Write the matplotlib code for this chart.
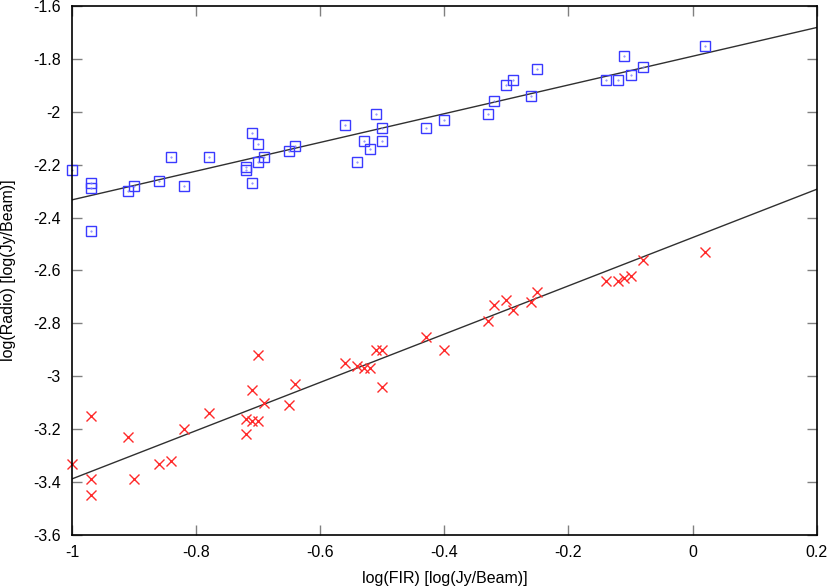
import matplotlib
matplotlib.use("Agg")
import matplotlib.pyplot as plt
import numpy as np

plt.rcParams['font.family'] = ['Liberation Sans', 'DejaVu Sans']

# log(FIR), same x for both bands
log_fir = [-1.00, -0.97, -0.97, -0.97, -0.91, -0.90, -0.86, -0.84, -0.82, -0.78,
           -0.71, -0.70, -0.72, -0.72, -0.71, -0.70, -0.69, -0.65, -0.64, -0.56,
           -0.51, -0.50, -0.53, -0.50, -0.52, -0.54, -0.43, -0.40, -0.33, -0.32,
           -0.30, -0.29, -0.26, -0.25, -0.14, -0.12, -0.11, -0.10, -0.08, 0.02]

# upper set (squares)
log_radio_a = [-2.22, -2.27, -2.29, -2.45, -2.30, -2.28, -2.26, -2.17, -2.28, -2.17,
               -2.08, -2.12, -2.21, -2.22, -2.27, -2.19, -2.17, -2.15, -2.13, -2.05,
               -2.01, -2.06, -2.11, -2.11, -2.14, -2.19, -2.06, -2.03, -2.01, -1.96,
               -1.90, -1.88, -1.94, -1.84, -1.88, -1.88, -1.79, -1.86, -1.83, -1.75]

# lower set (crosses)
log_radio_b = [-3.33, -3.15, -3.39, -3.45, -3.23, -3.39, -3.33, -3.32, -3.20, -3.14,
               -3.05, -2.92, -3.16, -3.22, -3.17, -3.17, -3.10, -3.11, -3.03, -2.95,
               -2.90, -2.90, -2.97, -3.04, -2.97, -2.96, -2.85, -2.90, -2.79, -2.73,
               -2.71, -2.75, -2.72, -2.68, -2.64, -2.64, -2.63, -2.62, -2.56, -2.53]

# fitted lines (slope, intercept)
fit_a = (0.543, -1.790)
fit_b = (0.9125, -2.4755)

fig = plt.figure(figsize=(8.3, 5.87), dpi=100)
ax = fig.add_axes([0.0867, 0.0886, 0.8973, 0.9012])

xx = np.linspace(-1, 0.2, 50)
ax.plot(xx, fit_a[0] * xx + fit_a[1], color='#303030', lw=1.0)
ax.plot(xx, fit_b[0] * xx + fit_b[1], color='#303030', lw=1.0)

ax.plot(log_fir, log_radio_a, 's', ms=7.5, mfc='none', mec='#3a3aff', mew=1.0, clip_on=False)
ax.plot(log_fir, log_radio_a, '.', ms=1, color='#8080ff', clip_on=False)
ax.plot(log_fir, log_radio_b, 'x', ms=7.5, color='#ff2a2a', mew=1.0, clip_on=False)

ax.set_xlim(-1, 0.2)
ax.set_ylim(-3.6, -1.6)
ax.set_xticks([-1, -0.8, -0.6, -0.4, -0.2, 0, 0.2])
ax.set_xticklabels(['-1', '-0.8', '-0.6', '-0.4', '-0.2', '0', '0.2'])
ax.set_yticks([-3.6, -3.4, -3.2, -3, -2.8, -2.6, -2.4, -2.2, -2, -1.8, -1.6])
ax.set_yticklabels(['-3.6', '-3.4', '-3.2', '-3', '-2.8', '-2.6', '-2.4', '-2.2', '-2', '-1.8', '-1.6'])
ax.tick_params(direction='in', length=7, width=1, color='#808080',
               top=True, right=True, labelsize=11.5)
ax.tick_params(axis='x', pad=7)
ax.tick_params(axis='y', pad=8)
for s in ax.spines.values():
    s.set_linewidth(1.2)

ax.set_xlabel('log(FIR) [log(Jy/Beam)]', fontsize=11.5, labelpad=8)
ax.set_ylabel('log(Radio) [log(Jy/Beam)]', fontsize=11.5, labelpad=12)

fig.savefig('out.png', dpi=100)
